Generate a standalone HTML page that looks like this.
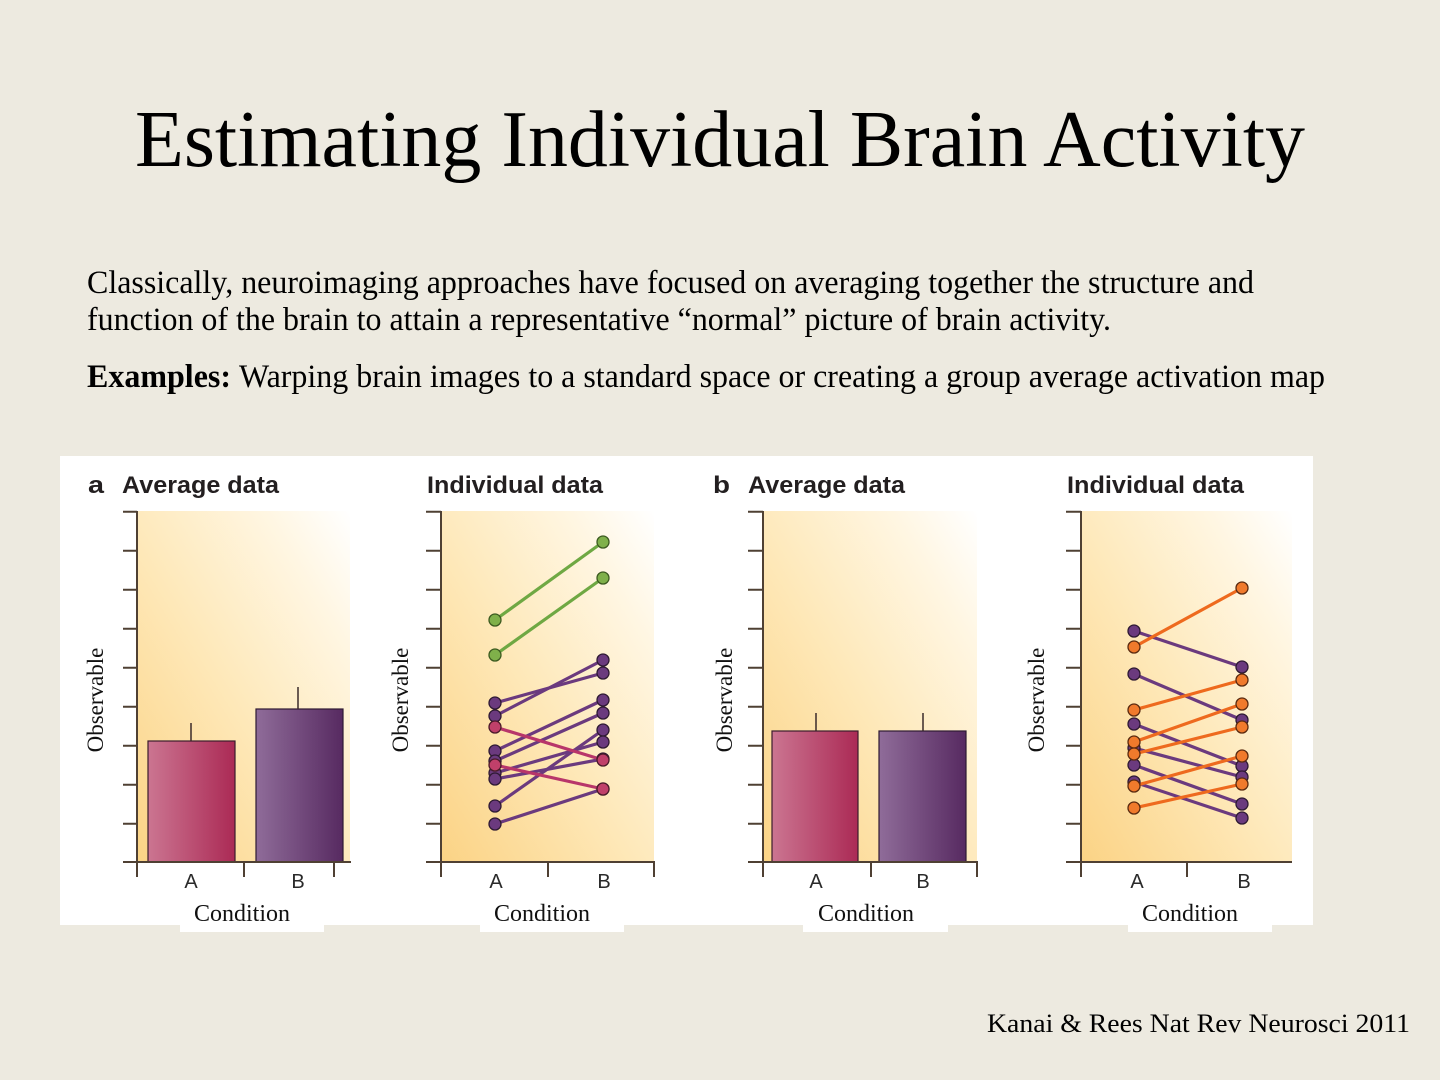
<!DOCTYPE html>
<html><head><meta charset="utf-8"><style>html,body{margin:0;padding:0;background:#EDEAE0;}svg{display:block}</style></head>
<body>
<svg width="1440" height="1080" viewBox="0 0 1440 1080" xmlns="http://www.w3.org/2000/svg">
<defs>
<linearGradient id="bg" x1="0" y1="1" x2="1" y2="0">
<stop offset="0" stop-color="#FBD385"/>
<stop offset="0.45" stop-color="#FEE8B8"/>
<stop offset="0.8" stop-color="#FFF6E2"/>
<stop offset="1" stop-color="#FFFFFF"/>
</linearGradient>
<linearGradient id="ba" x1="0" y1="0" x2="1" y2="0">
<stop offset="0" stop-color="#CB7591"/>
<stop offset="1" stop-color="#AB2A55"/>
</linearGradient>
<linearGradient id="bb" x1="0" y1="0" x2="1" y2="0">
<stop offset="0" stop-color="#8F6C99"/>
<stop offset="1" stop-color="#572A61"/>
</linearGradient>
</defs>
<rect x="0" y="0" width="1440" height="1080" fill="#EDEAE0"/>

<g font-family="'Liberation Serif', serif" fill="#000">
<text x="135" y="166" font-size="80" textLength="1170" lengthAdjust="spacingAndGlyphs">Estimating Individual Brain Activity</text>
<text x="87" y="293" font-size="33" textLength="1167" lengthAdjust="spacingAndGlyphs">Classically, neuroimaging approaches have focused on averaging together the structure and</text>
<text x="87" y="330" font-size="33" textLength="1024" lengthAdjust="spacingAndGlyphs">function of the brain to attain a representative “normal” picture of brain activity.</text>
<text x="87" y="387" font-size="33" font-weight="bold" textLength="144" lengthAdjust="spacingAndGlyphs">Examples:</text>
<text x="239" y="387" font-size="33" textLength="1086" lengthAdjust="spacingAndGlyphs">Warping brain images to a standard space or creating a group average activation map</text>
<text x="987" y="1032" font-size="26" textLength="423" lengthAdjust="spacingAndGlyphs">Kanai &amp; Rees Nat Rev Neurosci 2011</text>
</g>

<!-- white figure panel -->
<rect x="60" y="456" width="1253" height="469" fill="#FFFFFF"/>
<rect x="180" y="900" width="144" height="32" fill="#FFFFFF"/>
<rect x="480" y="900" width="144" height="32" fill="#FFFFFF"/>
<rect x="803" y="900" width="145" height="32" fill="#FFFFFF"/>
<rect x="1128" y="900" width="144" height="32" fill="#FFFFFF"/>

<!-- plot backgrounds -->
<rect x="137" y="511" width="213" height="351" fill="url(#bg)"/>
<rect x="441" y="511" width="213" height="351" fill="url(#bg)"/>
<rect x="763" y="511" width="214" height="351" fill="url(#bg)"/>
<rect x="1081" y="511" width="211" height="351" fill="url(#bg)"/>

<!-- panel a bars -->
<rect x="148" y="741" width="87" height="121" fill="url(#ba)" stroke="#3A1C2C" stroke-width="1.2"/>
<rect x="256" y="709" width="87" height="153" fill="url(#bb)" stroke="#2E1A33" stroke-width="1.2"/>
<line x1="191" y1="723" x2="191" y2="741" stroke="#3A2A2A" stroke-width="1.5"/>
<line x1="298" y1="687" x2="298" y2="709" stroke="#3A2A2A" stroke-width="1.5"/>

<!-- panel b bars -->
<rect x="772" y="731" width="86" height="131" fill="url(#ba)" stroke="#3A1C2C" stroke-width="1.2"/>
<rect x="879" y="731" width="87" height="131" fill="url(#bb)" stroke="#2E1A33" stroke-width="1.2"/>
<line x1="816" y1="713" x2="816" y2="731" stroke="#3A2A2A" stroke-width="1.5"/>
<line x1="923" y1="713" x2="923" y2="731" stroke="#3A2A2A" stroke-width="1.5"/>

<!-- panel a individual -->
<g stroke-width="3.2" stroke-linecap="round">
<line x1="495" y1="620" x2="603" y2="542" stroke="#6FA843"/>
<line x1="495" y1="655" x2="603" y2="578" stroke="#6FA843"/>
<line x1="495" y1="703" x2="603" y2="673" stroke="#6B3A7E"/>
<line x1="495" y1="716" x2="603" y2="660" stroke="#6B3A7E"/>
<line x1="495" y1="751" x2="603" y2="700" stroke="#6B3A7E"/>
<line x1="495" y1="761" x2="603" y2="713" stroke="#6B3A7E"/>
<line x1="495" y1="773" x2="603" y2="742" stroke="#6B3A7E"/>
<line x1="495" y1="779" x2="603" y2="759" stroke="#6B3A7E"/>
<line x1="495" y1="806" x2="603" y2="730" stroke="#6B3A7E"/>
<line x1="495" y1="824" x2="603" y2="789" stroke="#6B3A7E"/>
<line x1="495" y1="727" x2="603" y2="760" stroke="#B8366A"/>
<line x1="495" y1="765" x2="603" y2="789" stroke="#B8366A"/>
</g>
<g stroke-width="1.3">
<g fill="#7FB04A" stroke="#3C5A20">
<circle cx="495" cy="620" r="6"/><circle cx="603" cy="542" r="6"/>
<circle cx="495" cy="655" r="6"/><circle cx="603" cy="578" r="6"/>
</g>
<g fill="#6B3A7E" stroke="#2E1A33">
<circle cx="495" cy="703" r="6"/><circle cx="495" cy="716" r="6"/><circle cx="495" cy="751" r="6"/>
<circle cx="495" cy="761" r="6"/><circle cx="495" cy="773" r="6"/><circle cx="495" cy="779" r="6"/>
<circle cx="495" cy="806" r="6"/><circle cx="495" cy="824" r="6"/>
<circle cx="603" cy="660" r="6"/><circle cx="603" cy="673" r="6"/><circle cx="603" cy="700" r="6"/>
<circle cx="603" cy="713" r="6"/><circle cx="603" cy="730" r="6"/><circle cx="603" cy="742" r="6"/>
<circle cx="603" cy="759" r="6"/><circle cx="603" cy="789" r="6"/>
</g>
<g fill="#C0406A" stroke="#4A1A2A">
<circle cx="495" cy="727" r="6"/><circle cx="495" cy="765" r="6"/>
<circle cx="603" cy="760" r="6"/><circle cx="603" cy="789" r="6"/>
</g>
</g>

<!-- panel b individual -->
<g stroke-width="3.2" stroke-linecap="round">
<line x1="1134" y1="631" x2="1242" y2="667" stroke="#6B3A7E"/>
<line x1="1134" y1="674" x2="1242" y2="720" stroke="#6B3A7E"/>
<line x1="1134" y1="724" x2="1242" y2="766" stroke="#6B3A7E"/>
<line x1="1134" y1="748" x2="1242" y2="777" stroke="#6B3A7E"/>
<line x1="1134" y1="765" x2="1242" y2="804" stroke="#6B3A7E"/>
<line x1="1134" y1="782" x2="1242" y2="818" stroke="#6B3A7E"/>
<line x1="1134" y1="647" x2="1242" y2="588" stroke="#EE6A1E"/>
<line x1="1134" y1="710" x2="1242" y2="680" stroke="#EE6A1E"/>
<line x1="1134" y1="742" x2="1242" y2="704" stroke="#EE6A1E"/>
<line x1="1134" y1="754" x2="1242" y2="727" stroke="#EE6A1E"/>
<line x1="1134" y1="786" x2="1242" y2="756" stroke="#EE6A1E"/>
<line x1="1134" y1="808" x2="1242" y2="784" stroke="#EE6A1E"/>
</g>
<g stroke-width="1.3">
<g fill="#6B3A7E" stroke="#2E1A33">
<circle cx="1134" cy="631" r="6"/><circle cx="1134" cy="674" r="6"/><circle cx="1134" cy="724" r="6"/>
<circle cx="1134" cy="748" r="6"/><circle cx="1134" cy="765" r="6"/><circle cx="1134" cy="782" r="6"/>
<circle cx="1242" cy="667" r="6"/><circle cx="1242" cy="720" r="6"/><circle cx="1242" cy="766" r="6"/>
<circle cx="1242" cy="777" r="6"/><circle cx="1242" cy="804" r="6"/><circle cx="1242" cy="818" r="6"/>
</g>
<g fill="#F07A2C" stroke="#5A2A10">
<circle cx="1134" cy="647" r="6"/><circle cx="1134" cy="710" r="6"/><circle cx="1134" cy="742" r="6"/>
<circle cx="1134" cy="754" r="6"/><circle cx="1134" cy="786" r="6"/><circle cx="1134" cy="808" r="6"/>
<circle cx="1242" cy="588" r="6"/><circle cx="1242" cy="680" r="6"/><circle cx="1242" cy="704" r="6"/>
<circle cx="1242" cy="727" r="6"/><circle cx="1242" cy="756" r="6"/><circle cx="1242" cy="784" r="6"/>
</g>
</g>

<!-- axes -->
<g stroke="#4F4033" stroke-width="2" fill="none">
<path d="M137 511V877 M123 862H351 M244 862V877 M334 862V877
M123 511.7H137 M123 550.7H137 M123 589.7H137 M123 628.7H137 M123 667.7H137 M123 706.7H137 M123 745.7H137 M123 784.7H137 M123 823.7H137"/>
<path d="M441 511V877 M426 862H655 M548 862V877 M654 862V877
M426 511.7H441 M426 550.7H441 M426 589.7H441 M426 628.7H441 M426 667.7H441 M426 706.7H441 M426 745.7H441 M426 784.7H441 M426 823.7H441"/>
<path d="M763 511V877 M748 862H978 M871 862V877 M977 862V877
M748 511.7H763 M748 550.7H763 M748 589.7H763 M748 628.7H763 M748 667.7H763 M748 706.7H763 M748 745.7H763 M748 784.7H763 M748 823.7H763"/>
<path d="M1081 511V877 M1066 862H1292 M1187 862V877
M1066 511.7H1081 M1066 550.7H1081 M1066 589.7H1081 M1066 628.7H1081 M1066 667.7H1081 M1066 706.7H1081 M1066 745.7H1081 M1066 784.7H1081 M1066 823.7H1081"/>
</g>

<!-- panel titles -->
<g font-family="'Liberation Sans', sans-serif" font-weight="bold" fill="#231F20" font-size="24">
<text x="88" y="493" textLength="16" lengthAdjust="spacingAndGlyphs">a</text>
<text x="122" y="493" textLength="157" lengthAdjust="spacingAndGlyphs">Average data</text>
<text x="427" y="493" textLength="176" lengthAdjust="spacingAndGlyphs">Individual data</text>
<text x="713" y="493" textLength="17" lengthAdjust="spacingAndGlyphs">b</text>
<text x="748" y="493" textLength="157" lengthAdjust="spacingAndGlyphs">Average data</text>
<text x="1067" y="493" textLength="177" lengthAdjust="spacingAndGlyphs">Individual data</text>
</g>

<!-- A/B labels -->
<g font-family="'Liberation Sans', sans-serif" fill="#2A2A2A" font-size="20" text-anchor="middle">
<text x="191" y="888">A</text><text x="298" y="888">B</text>
<text x="496" y="888">A</text><text x="604" y="888">B</text>
<text x="816" y="888">A</text><text x="923" y="888">B</text>
<text x="1137" y="888">A</text><text x="1244" y="888">B</text>
</g>

<!-- Condition / Observable -->
<g font-family="'Liberation Serif', serif" fill="#111" font-size="24" text-anchor="middle">
<text x="242" y="921">Condition</text>
<text x="542" y="921">Condition</text>
<text x="866" y="921">Condition</text>
<text x="1190" y="921">Condition</text>
</g>
<g font-family="'Liberation Serif', serif" fill="#111" font-size="23" text-anchor="middle">
<text transform="translate(103,700) rotate(-90)">Observable</text>
<text transform="translate(408,700) rotate(-90)">Observable</text>
<text transform="translate(732,700) rotate(-90)">Observable</text>
<text transform="translate(1044,700) rotate(-90)">Observable</text>
</g>
</svg>
</body></html>
